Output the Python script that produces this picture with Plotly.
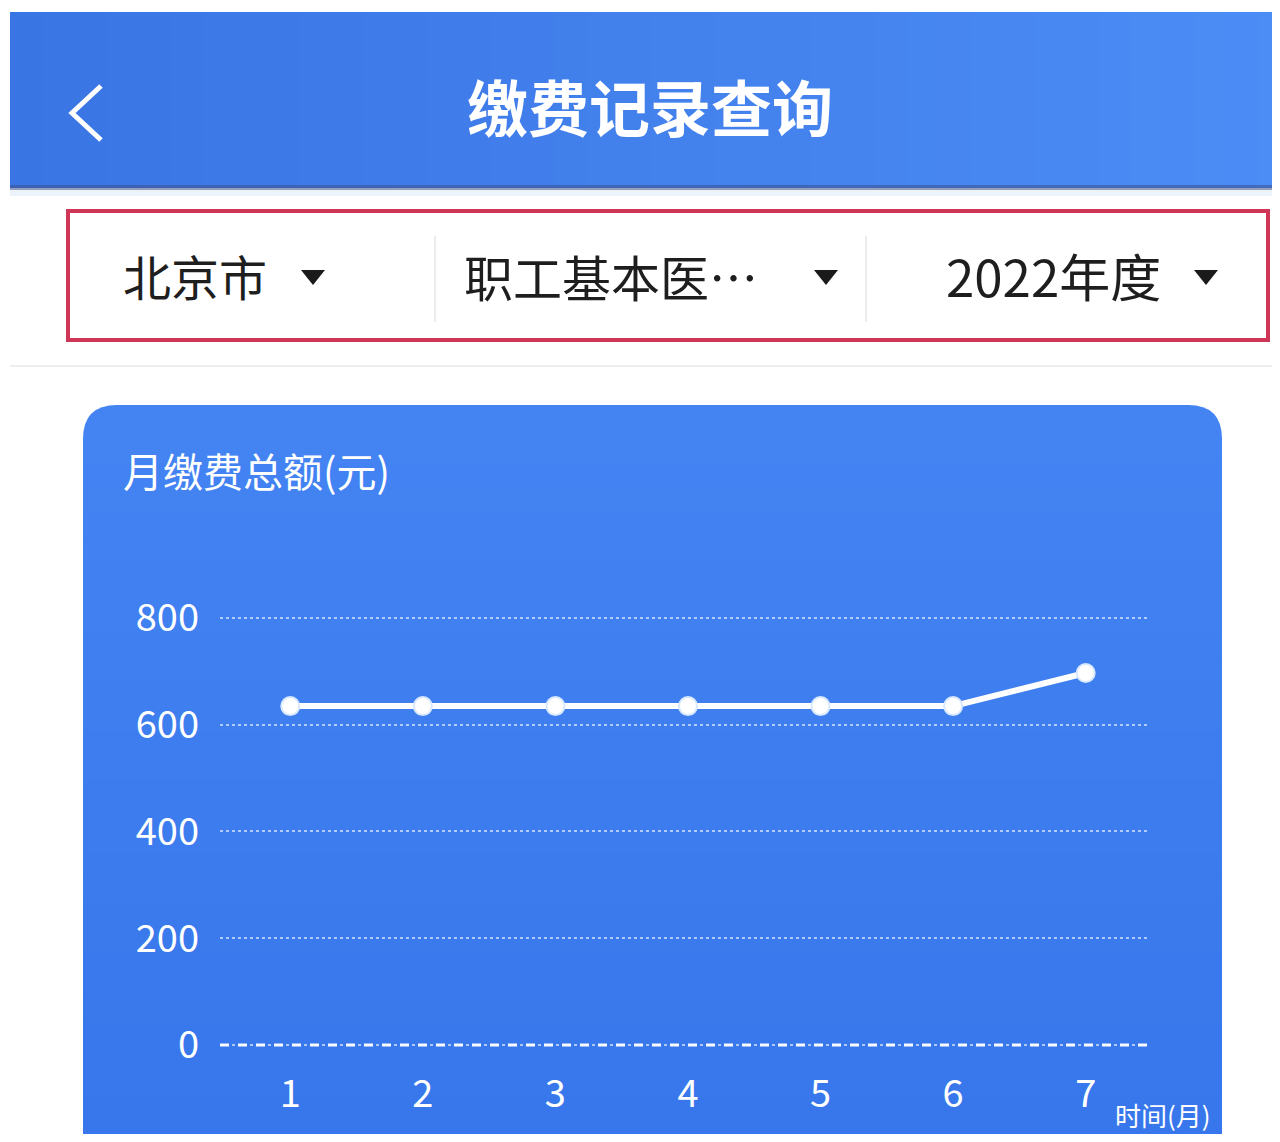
import plotly.graph_objects as go

# ---- data ----
months = [1, 2, 3, 4, 5, 6, 7]
amounts = [635, 635, 635, 635, 635, 635, 697]
y_ticks = [0, 200, 400, 600, 800]
month_labels = ["1", "2", "3", "4", "5", "6", "7"]

# page body has an 8px margin; size the figure so the page is exactly 1280x1142
OFF = 8
W, H = 1280 - 2 * OFF, 1142 - 2 * OFF
FONT = "Noto Sans CJK SC"


def px(x):
    return (x - OFF) / W


def py(y):
    return 1 - (y - OFF) / H


def lerp_color(c1, c2, t):
    return "rgb(%d,%d,%d)" % tuple(round(a + (b - a) * t) for a, b in zip(c1, c2))


shapes = []

# header gradient (vertical stripes)
hl, hr = (58, 117, 228), (75, 140, 245)
n = 40
x0h, x1h = 10, 1290
for i in range(n):
    xa = x0h + (x1h - x0h) * i / n
    xb = x0h + (x1h - x0h) * (i + 1) / n + 1
    shapes.append(dict(type="rect", xref="paper", yref="paper",
                       x0=px(xa), x1=px(xb), y0=py(188), y1=py(12),
                       fillcolor=lerp_color(hl, hr, i / (n - 1)), line_width=0, layer="below"))
# header bottom shadow
shapes.append(dict(type="rect", xref="paper", yref="paper", x0=px(10), x1=px(1290), y0=py(190), y1=py(185),
                   fillcolor="rgba(60,80,140,0.55)", line_width=0, layer="below"))
shapes.append(dict(type="rect", xref="paper", yref="paper", x0=px(10), x1=px(1290), y0=py(196), y1=py(190),
                   fillcolor="rgba(200,220,240,0.35)", line_width=0, layer="below"))

# back chevron
shapes.append(dict(type="path", xref="paper", yref="paper",
                   path="M %f %f L %f %f L %f %f" % (px(101), py(86), px(72), py(113), px(101), py(140)),
                   line=dict(color="white", width=5)))

# dropdown box
shapes.append(dict(type="rect", xref="paper", yref="paper", x0=px(68), x1=px(1268), y0=py(340), y1=py(211),
                   fillcolor="white", line=dict(color="#cf3557", width=4), layer="below"))
for sx in (435, 866):
    shapes.append(dict(type="line", xref="paper", yref="paper", x0=px(sx), x1=px(sx), y0=py(322), y1=py(236),
                       line=dict(color="#ececec", width=2)))
for tx in (313, 826, 1206):
    shapes.append(dict(type="path", xref="paper", yref="paper",
                       path="M %f %f L %f %f L %f %f Z" % (px(tx - 12), py(270), px(tx + 12), py(270), px(tx), py(285)),
                       fillcolor="#1a1a1a", line_width=0))
# faint separator line below dropdown
shapes.append(dict(type="line", xref="paper", yref="paper", x0=px(10), x1=px(1290), y0=py(366), y1=py(366),
                   line=dict(color="#eeeeee", width=2), layer="below"))

# card (rounded top), with vertical gradient
ct, cb = (67, 131, 242), (55, 118, 235)
cx0, cx1, cy0, r = 83, 1222, 405, 34
ybot = 1170
card_path = ("M %f %f L %f %f Q %f %f %f %f L %f %f Q %f %f %f %f L %f %f L %f %f Z" % (
    px(cx0), py(ybot), px(cx0), py(cy0 + r), px(cx0), py(cy0), px(cx0 + r), py(cy0),
    px(cx1 - r), py(cy0), px(cx1), py(cy0), px(cx1), py(cy0 + r), px(cx1), py(ybot), px(cx0), py(ybot)))
shapes.append(dict(type="path", xref="paper", yref="paper", path=card_path,
                   fillcolor=lerp_color(ct, cb, 0), line_width=0, layer="below"))
nb = 30
yb0, yb1 = cy0 + r, ybot
for i in range(nb):
    ya = yb0 + (yb1 - yb0) * i / nb
    yb = yb0 + (yb1 - yb0) * (i + 1) / nb + 1
    shapes.append(dict(type="rect", xref="paper", yref="paper", x0=px(cx0), x1=px(cx1),
                       y0=py(yb), y1=py(ya), fillcolor=lerp_color(ct, cb, (i + 1) / nb),
                       line_width=0, layer="below"))

# dashed zero baseline
shapes.append(dict(type="line", xref="x domain", yref="y", x0=0, x1=1, y0=0, y1=0,
                   line=dict(color="rgba(255,255,255,0.95)", width=3, dash="dash"), layer="above"))

annotations = [
    dict(text="<b>缴费记录查询</b>", x=px(650), y=py(105), xref="paper", yref="paper", showarrow=False,
         font=dict(family=FONT, size=61, color="white"), xanchor="center", yanchor="middle"),
    dict(text="北京市", x=px(121), y=py(275), xref="paper", yref="paper", showarrow=False,
         font=dict(family=FONT, size=48, color="#1e1e1e"), xanchor="left", yanchor="middle"),
    dict(text="职工基本医…", x=px(462), y=py(275), xref="paper", yref="paper", showarrow=False,
         font=dict(family=FONT, size=49, color="#1e1e1e"), xanchor="left", yanchor="middle"),
    dict(text="2022年度", x=px(944), y=py(275), xref="paper", yref="paper", showarrow=False,
         font=dict(family=FONT, size=51, color="#1e1e1e"), xanchor="left", yanchor="middle"),
    dict(text="月缴费总额(元)", x=px(121), y=py(470), xref="paper", yref="paper", showarrow=False,
         font=dict(family=FONT, size=40, color="white"), xanchor="left", yanchor="middle"),
    dict(text="时间(月)", x=px(1213), y=py(1135), xref="paper", yref="paper", showarrow=False,
         font=dict(family=FONT, size=26, color="white"), xanchor="right", yanchor="bottom"),
]

fig = go.Figure()
fig.add_trace(go.Scatter(
    x=months, y=amounts, mode="lines+markers",
    line=dict(color="white", width=6),
    marker=dict(size=18, color="white", line=dict(color="rgba(215,232,255,1)", width=2)),
    hoverinfo="skip", showlegend=False,
))

# y: 0 -> page y 1045, 800 -> page y 618 (range padded by 20 each side)
upx = (1045 - 618) / 800.0
y_bot_px = 1045 + 20 * upx
y_top_px = 618 - 20 * upx

fig.update_layout(
    width=W, height=H,
    margin=dict(l=0, r=0, t=0, b=0, autoexpand=False),
    paper_bgcolor="white", plot_bgcolor="rgba(0,0,0,0)",
    shapes=shapes, annotations=annotations,
    xaxis=dict(domain=[px(220), px(1148)], range=[0.47, 7.47], tickvals=months, ticktext=month_labels,
               showgrid=False, zeroline=False, showline=False, ticks="", ticklabelstandoff=12,
               automargin=False,
               tickfont=dict(family=FONT, size=38, color="white"), fixedrange=True),
    yaxis=dict(domain=[py(y_bot_px), py(y_top_px)], range=[-20, 820], tickvals=y_ticks,
               showgrid=True, griddash="dot", gridcolor="rgba(255,255,255,0.6)", gridwidth=1.5,
               zeroline=False, showline=False, ticks="", ticklabelstandoff=20, automargin=False,
               tickfont=dict(family=FONT, size=38, color="white"), fixedrange=True),
)

fig.write_html("out.html")
